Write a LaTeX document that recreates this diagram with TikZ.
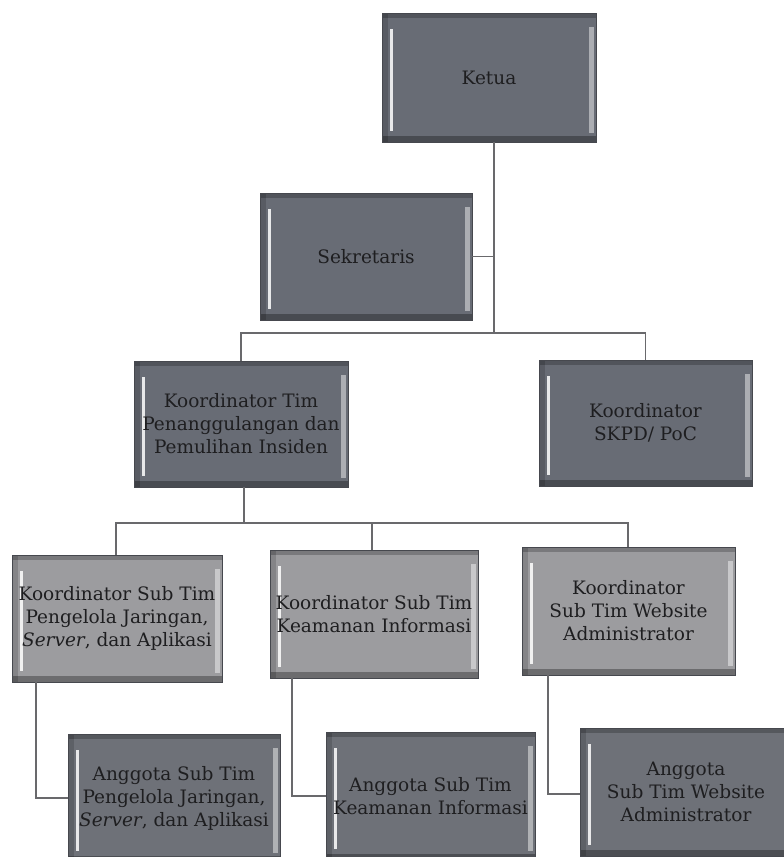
\documentclass[tikz,border=0pt]{standalone}
\usepackage{fontspec}
\setmainfont{DejaVu Serif}
\definecolor{darkbox}{RGB}{104,108,117}
\definecolor{lightbox}{RGB}{156,156,159}
\definecolor{lowbox}{RGB}{110,113,120}
\definecolor{edge}{RGB}{70,72,78}
\definecolor{wire}{RGB}{105,105,108}
\definecolor{ink}{RGB}{30,30,32}
\tikzset{
  bevel/.style={
    path picture={
      \fill[black,opacity=.22] (path picture bounding box.north west) rectangle ([yshift=-5pt]path picture bounding box.north east);
      \fill[black,opacity=.30] (path picture bounding box.south west) rectangle ([yshift=6pt]path picture bounding box.south east);
      \fill[black,opacity=.15] (path picture bounding box.north west) rectangle ([xshift=6pt]path picture bounding box.south west);
      \fill[white,opacity=.85] ([xshift=8pt,yshift=-16pt]path picture bounding box.north west) rectangle ([xshift=11pt,yshift=11pt]path picture bounding box.south west);
      \fill[white,opacity=.45] ([xshift=-7pt,yshift=-14pt]path picture bounding box.north east) rectangle ([xshift=-2pt,yshift=9pt]path picture bounding box.south east);
    }},
  orgbox/.style={draw=edge, line width=0.8pt, bevel, text=ink, align=center,
    minimum width=213pt, minimum height=127pt, inner sep=0pt,
    font=\fontsize{18.5}{23}\selectfont},
  topbox/.style={orgbox, fill=darkbox},
  midbox/.style={orgbox, fill=lightbox},
  lowbox/.style={orgbox, fill=lowbox},
  wire/.style={draw=wire, line width=1.8pt}
}
\begin{document}
\begin{tikzpicture}[x=1pt,y=-1pt]
\useasboundingbox (0,0) rectangle (784,857);
\clip (0,0) rectangle (784,857);
\fill[white] (0,0) rectangle (784,857);

% nodes
\node[topbox, minimum width=214pt, minimum height=129pt] (ketua) at (489,77.5) {Ketua};
\node[topbox, minimum width=212pt] (sekre) at (366,256.5) {Sekretaris};
\node[topbox, minimum width=214pt, minimum height=126pt] (ktim) at (241,424) {Koordinator Tim\\Penanggulangan dan\\Pemulihan Insiden};
\node[topbox, minimum width=213pt, minimum height=126pt] (skpd) at (645.5,423) {Koordinator\\SKPD/ PoC};

\node[midbox, minimum width=210pt] (ka) at (117,618.5) {Koordinator Sub Tim\\Pengelola Jaringan,\\\textit{Server}, dan Aplikasi};
\node[midbox, minimum width=208pt, minimum height=128pt] (kb) at (374,614) {Koordinator Sub Tim\\Keamanan Informasi};
\node[midbox, minimum height=128pt] (kc) at (628.5,611) {Koordinator\\Sub Tim Website\\Administrator};

\node[lowbox, minimum width=212pt, minimum height=128pt] (aa) at (174,798) {Anggota Sub Tim\\Pengelola Jaringan,\\\textit{Server}, dan Aplikasi};
\node[lowbox, minimum width=209pt, minimum height=128pt] (ab) at (430.5,796) {Anggota Sub Tim\\Keamanan Informasi};
\node[lowbox, minimum width=212pt, minimum height=128pt] (ac) at (686,792) {Anggota\\Sub Tim Website\\Administrator};

% bus coordinates
\coordinate (bus1) at (494,333);
\coordinate (bus2) at (244,523);

% connectors level 1-2
\draw[wire] ([xshift=5pt]ketua.south) -- (bus1);
\draw[wire] (sekre.east) -- (sekre.east -| bus1);
\draw[wire] (ktim.north) -- (ktim.north |- bus1) -- (skpd.north |- bus1) -- (skpd.north);

% connectors level 2-3
\draw[wire] ([xshift=3pt]ktim.south) -- (bus2);
\draw[wire] ([xshift=-1pt]ka.north) -- ([xshift=-1pt]ka.north |- bus2) -- ([xshift=-0.5pt]kc.north |- bus2) -- ([xshift=-0.5pt]kc.north);
\draw[wire] ([xshift=-2pt]kb.north) -- ([xshift=-2pt]kb.north |- bus2);

% connectors level 3-4
\draw[wire] ([xshift=-81pt]ka.south) |- (aa.west);
\draw[wire] ([xshift=-82pt]kb.south) |- (ab.west);
\draw[wire] ([xshift=-80.5pt]kc.south) |- ([yshift=-2pt]ac.west);
\end{tikzpicture}
\end{document}
